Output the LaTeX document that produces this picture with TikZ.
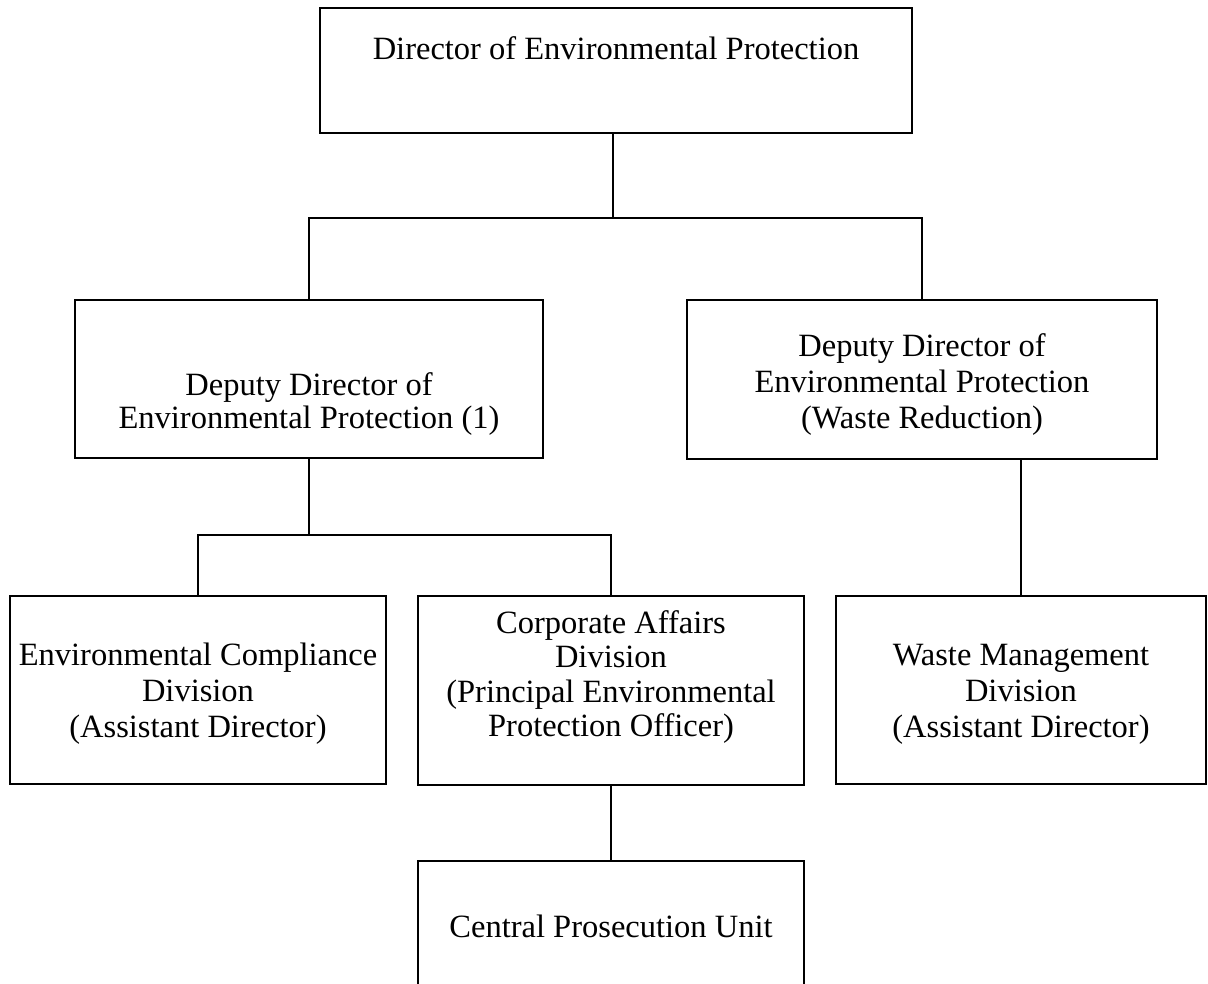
\documentclass[tikz,border=0pt]{standalone}
\usepackage{fontspec}
\setmainfont{Liberation Serif}
\newcommand\myup[1]{\rule{0pt}{#1}}
\newcommand\mydown[1]{\rule[-#1]{0pt}{#1}}
\begin{document}
\begin{tikzpicture}[x=1pt,y=-1pt,
  box/.style={draw, line width=1.6pt, align=center, inner sep=0pt,
    font=\fontsize{32.5}{36}\selectfont},
  link/.style={line width=1.6pt}]
\useasboundingbox (0,0) rectangle (1208,984);
\node[box, minimum width=592pt, minimum height=125pt, text height=24pt, text depth=46pt] (dir) at (616,70.5) {Director of Environmental Protection};
\node[box, minimum width=468pt, minimum height=158pt, font=\fontsize{32.5}{33}\selectfont] (d1) at (309,379) {\myup{72pt}Deputy Director of\\Environmental Protection (1)};
\node[box, minimum width=470pt, minimum height=159pt] (dwr) at (922,379.5) {\myup{32pt}Deputy Director of\\Environmental Protection\\(Waste Reduction)};
\node[box, minimum width=376pt, minimum height=188pt] (env) at (198,690) {\myup{30pt}Environmental Compliance\\Division\\(Assistant Director)};
\node[box, minimum width=386pt, minimum height=189pt, font=\fontsize{32.5}{34.5}\selectfont] (corp) at (611,690.5) {Corporate Affairs\\Division\\(Principal Environmental\\Protection Officer)\mydown{34pt}};
\node[box, minimum width=370pt, minimum height=188pt] (waste) at (1021,690) {\myup{30pt}Waste Management\\Division\\(Assistant Director)};
\node[box, minimum width=386pt, minimum height=131pt] (cpu) at (611,926.5) {Central Prosecution Unit};
\coordinate (j1) at (613,218);
\coordinate (j2) at (309,535);
\draw[link] (dir.south -| j1) -- (j1);
\draw[link] (d1.north) -- (d1.north |- j1) -- (dwr.north |- j1) -- (dwr.north);
\draw[link] (d1.south) -- (j2);
\draw[link] (env.north) -- (env.north |- j2) -- (corp.north |- j2) -- (corp.north);
\draw[link] (waste.north) -- (waste.north |- dwr.south);
\draw[link] (corp.south) -- (cpu.north);
\end{tikzpicture}
\end{document}
